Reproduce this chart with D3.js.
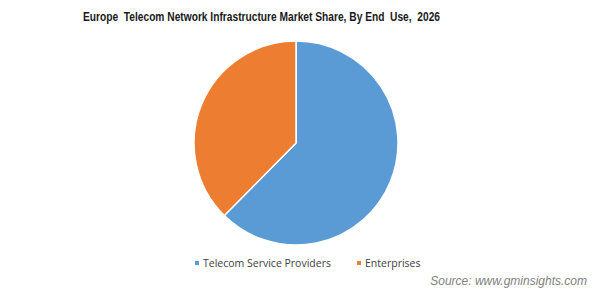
<!DOCTYPE html>
<html>
<head>
<meta charset="UTF-8">
<script src="https://cdn.jsdelivr.net/npm/d3@7"></script>
<style>
  body { margin: 0; background: #fff; }
  svg { display: block; }
  .title { font-family: "Liberation Sans Narrow", "Arial Narrow", "Liberation Sans", Arial, sans-serif; font-weight: bold; font-size: 12.5px; fill: #1a1a1a; white-space: pre; }
  .legend text { font-family: "Open Sans", "Noto Sans", sans-serif; font-size: 10.5px; fill: #404040; }
  .source { font-family: "Liberation Sans", Arial, sans-serif; font-style: italic; font-size: 12px; fill: #7f7f7f; }
</style>
</head>
<body>
<svg id="chart"></svg>
<script>
// data
var categories = ["Telecom Service Providers", "Enterprises"];
var shares = [62.4, 37.6];
var colours = ["#5b9bd5", "#ed7d31"];

var width = 602, height = 302;
var cx = 296, cy = 143, radius = 102;

var svg = d3.select("#chart")
  .attr("width", width)
  .attr("height", height);

// title
svg.append("text")
  .attr("class", "title")
  .attr("x", 83)
  .attr("y", 21)
  .attr("textLength", 357)
  .attr("lengthAdjust", "spacingAndGlyphs")
  .text("Europe  Telecom Network Infrastructure Market Share, By End  Use,  2026");

var colour = d3.scaleOrdinal().domain(categories).range(colours);

var pie = d3.pie()
  .value(function (d, i) { return shares[i]; })
  .sort(null);

var arc = d3.arc()
  .innerRadius(0)
  .outerRadius(radius);

var g = svg.append("g")
  .attr("transform", "translate(" + cx + "," + cy + ")");

g.selectAll("path")
  .data(pie(categories))
  .enter().append("path")
  .attr("d", arc)
  .attr("fill", function (d) { return colour(d.data); })
  .attr("stroke", "#fff")
  .attr("stroke-width", 1.5)
  .attr("stroke-linejoin", "round");

// legend
var legendX = [195, 357];
var legend = svg.append("g").attr("class", "legend");
var item = legend.selectAll("g")
  .data(categories)
  .enter().append("g")
  .attr("transform", function (d, i) { return "translate(" + legendX[i] + ",261)"; });

item.append("rect")
  .attr("width", 4)
  .attr("height", 4)
  .attr("fill", function (d) { return colour(d); });

item.append("text")
  .attr("x", 8)
  .attr("y", 6)
  .text(function (d) { return d; });

// source
svg.append("text")
  .attr("class", "source")
  .attr("x", 587)
  .attr("y", 285)
  .attr("text-anchor", "end")
  .text("Source: www.gminsights.com");
</script>
</body>
</html>
